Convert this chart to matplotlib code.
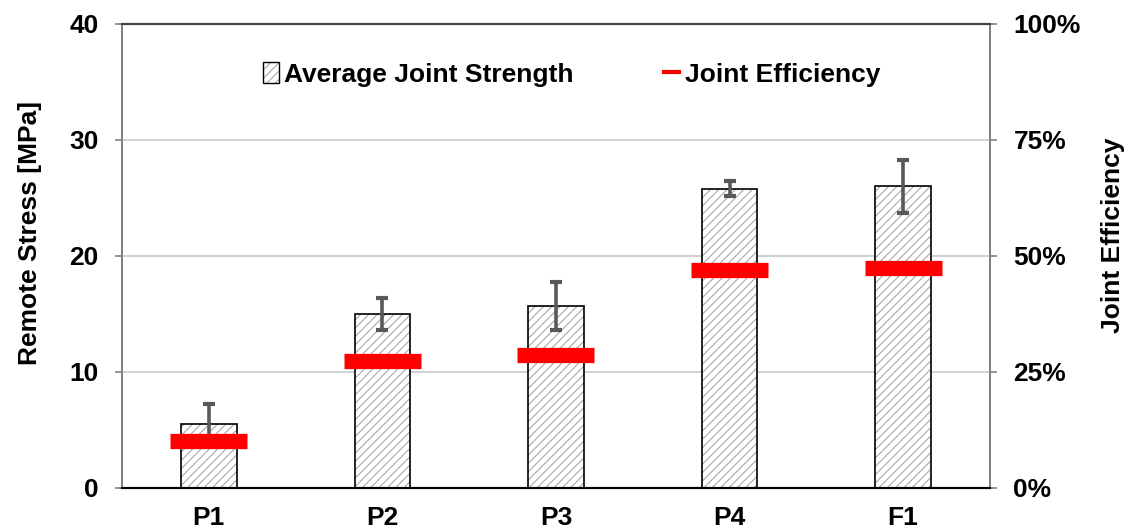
import matplotlib.pyplot as plt
import numpy as np
from matplotlib.patches import Patch
from matplotlib.lines import Line2D
from matplotlib.ticker import PercentFormatter

plt.rcParams['font.family'] = ['Liberation Sans', 'DejaVu Sans']
plt.rcParams['font.weight'] = 'bold'
plt.rcParams['hatch.linewidth'] = 0.8

specimens = ['P1', 'P2', 'P3', 'P4', 'F1']
strength = [5.5, 15.0, 15.7, 25.8, 26.0]          # MPa
strength_err = [1.75, 1.35, 2.05, 0.65, 2.3]      # MPa
efficiency = [10.1, 27.4, 28.7, 47.0, 47.3]       # %

x = np.arange(len(specimens))
bar_w = 0.32
fs = 19

fig = plt.figure(figsize=(11.3, 5.31), dpi=100)
ax = fig.add_axes([0.108, 0.081, 0.768, 0.874])
ax2 = ax.twinx()

# hatched fill, then a black outline on top
ax.bar(x, strength, bar_w, color='white', edgecolor='#a8a8a8', hatch='////', linewidth=0, zorder=2)
ax.bar(x, strength, bar_w, fill=False, edgecolor='black', linewidth=1.2, zorder=3)
ax.errorbar(x, strength, yerr=strength_err, fmt='none', ecolor='#595959',
            elinewidth=2.6, capsize=4.5, capthick=3, zorder=4)

# joint efficiency markers on the right axis
ax2.hlines(efficiency, x - 0.222, x + 0.222, color='#ff0000', linewidth=11, zorder=5)

ax.set_xlim(-0.5, 4.5)
ax.set_ylim(0, 40)
ax.set_yticks([0, 10, 20, 30, 40])
ax2.set_ylim(0, 100)
ax2.set_yticks([0, 25, 50, 75, 100])
ax2.yaxis.set_major_formatter(PercentFormatter(decimals=0))

ax.set_xticks(x)
ax.set_xticklabels(specimens)
ax.yaxis.grid(True, color='#c8c8c8', linewidth=1.2, zorder=0)
ax.set_axisbelow(True)

for a in (ax, ax2):
    a.spines['left'].set_color('#808080')
    a.spines['right'].set_color('#808080')
    a.spines['top'].set_color('#404040')
    a.spines['bottom'].set_color('black')
    a.spines['left'].set_linewidth(1.3)
    a.spines['right'].set_linewidth(1.3)
    a.spines['bottom'].set_linewidth(1.5)
    a.spines['top'].set_linewidth(1.5)
    a.tick_params(axis='y', length=5, width=1.2, color='#808080', labelsize=fs, pad=12)
ax.tick_params(axis='x', length=0, labelsize=fs, pad=13)

for lbl in ax.get_yticklabels() + ax2.get_yticklabels() + ax.get_xticklabels():
    lbl.set_fontweight('bold')

# axis titles placed in figure coordinates
fig.text(30 / 1130, 1 - 233 / 531, 'Remote Stress [MPa]', rotation=90,
         ha='center', va='center', fontsize=19, fontweight='bold')
fig.text(1113 / 1130, 1 - 235 / 531, 'Joint Efficiency', rotation=90,
         ha='center', va='center', fontsize=19, fontweight='bold')

h_bar = (Patch(facecolor='white', edgecolor='#a8a8a8', hatch='////', linewidth=0),
         Patch(fill=False, edgecolor='black', linewidth=1.0))
h_eff = Line2D([], [], color='#ff0000', linewidth=3)
ax2.legend([h_bar, h_eff], ['Average Joint Strength', 'Joint Efficiency'],
           loc='upper center', bbox_to_anchor=(0.518, 0.968), ncol=2, frameon=False,
           prop={'size': fs, 'weight': 'bold'}, handlelength=0.6, handleheight=0.8,
           handletextpad=0.2, columnspacing=3.4)

fig.savefig('out.png', dpi=100)
